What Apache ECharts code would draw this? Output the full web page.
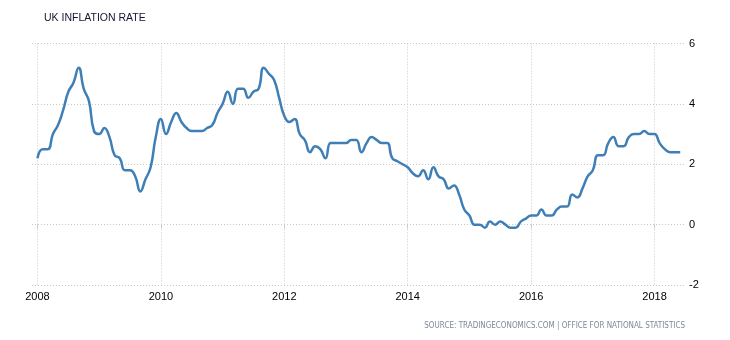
<!DOCTYPE html>
<html>
<head>
<meta charset="utf-8">
<script src="https://cdn.jsdelivr.net/npm/echarts@6/dist/echarts.min.js"></script>
<style>
html,body{margin:0;padding:0;background:#fff;}
#c{width:730px;height:340px;}
</style>
</head>
<body>
<div id="c"></div>
<script>
// Monthly UK CPI inflation rate (%), Jan 2008 .. Jun 2018
var startYear = 2008;
var values = [
  2.2, 2.5, 2.5, 3.0, 3.3, 3.8, 4.4, 4.7, 5.2, 4.5, 4.1, 3.1,   // 2008
  3.0, 3.2, 2.9, 2.3, 2.2, 1.8, 1.8, 1.6, 1.1, 1.5, 1.9, 2.9,   // 2009
  3.5, 3.0, 3.4, 3.7, 3.4, 3.2, 3.1, 3.1, 3.1, 3.2, 3.3, 3.7,   // 2010
  4.0, 4.4, 4.0, 4.5, 4.5, 4.2, 4.4, 4.5, 5.2, 5.0, 4.8, 4.2,   // 2011
  3.6, 3.4, 3.5, 3.0, 2.8, 2.4, 2.6, 2.5, 2.2, 2.7, 2.7, 2.7,   // 2012
  2.7, 2.8, 2.8, 2.4, 2.7, 2.9, 2.8, 2.7, 2.7, 2.2, 2.1, 2.0,   // 2013
  1.9, 1.7, 1.6, 1.8, 1.5, 1.9, 1.6, 1.5, 1.2, 1.3, 1.0, 0.5,   // 2014
  0.3, 0.0, 0.0, -0.1, 0.1, 0.0, 0.1, 0.0, -0.1, -0.1, 0.1, 0.2, // 2015
  0.3, 0.3, 0.5, 0.3, 0.3, 0.5, 0.6, 0.6, 1.0, 0.9, 1.2, 1.6,   // 2016
  1.8, 2.3, 2.3, 2.7, 2.9, 2.6, 2.6, 2.9, 3.0, 3.0, 3.1, 3.0,   // 2017
  3.0, 2.7, 2.5, 2.4, 2.4, 2.4                                  // 2018
];
var xTickYears = [2008, 2010, 2012, 2014, 2016, 2018];
var yTicks = [-2, 0, 2, 4, 6];
var titleText = 'UK INFLATION RATE';
var sourceText = 'SOURCE: TRADINGECONOMICS.COM | OFFICE FOR NATIONAL STATISTICS';

var seriesData = values.map(function (v, i) { return [startYear + i / 12, v]; });

var chart = echarts.init(document.getElementById('c'), null, {renderer: 'canvas'});
chart.setOption({
  animation: false,
  backgroundColor: '#fff',
  title: [{
    text: titleText,
    left: 44, top: 13, padding: 0,
    textStyle: {fontFamily: 'Liberation Sans', fontSize: 10.5, fontWeight: 'normal', color: '#141430'}
  }, {
    text: sourceText,
    right: 45, top: 322, padding: 0,
    textStyle: {fontFamily: '"Liberation Sans Narrow", "DejaVu Sans Condensed", sans-serif', fontSize: 8, fontWeight: 'normal', color: '#7d899a'}
  }],
  grid: {left: 32, right: 45, top: 43.5, bottom: 55, containLabel: false},
  xAxis: {
    type: 'value',
    min: 2007.911,
    max: 2018.494,
    axisLine: {show: false},
    axisTick: {show: true, length: 4, customValues: xTickYears, lineStyle: {color: '#ccc'}},
    axisLabel: {customValues: xTickYears, margin: 6, color: '#000', fontFamily: 'Liberation Sans', fontSize: 11,
      formatter: function (v) { return String(Math.round(v)); }},
    splitLine: {show: true, lineStyle: {color: '#c8c8c8', type: [1, 2], width: 1}}
  },
  yAxis: {
    type: 'value',
    position: 'right',
    min: -2, max: 6, interval: 2,
    axisLine: {show: false},
    axisTick: {show: false},
    axisLabel: {margin: 4, color: '#000', fontFamily: 'Liberation Sans', fontSize: 11},
    splitLine: {show: true, lineStyle: {color: '#c8c8c8', type: [1, 2], width: 1}}
  },
  series: [{
    type: 'line',
    data: seriesData,
    smooth: 0.5,
    showSymbol: false,
    lineStyle: {color: '#3f7fb6', width: 2.5}
  }]
});
</script>
</body>
</html>
